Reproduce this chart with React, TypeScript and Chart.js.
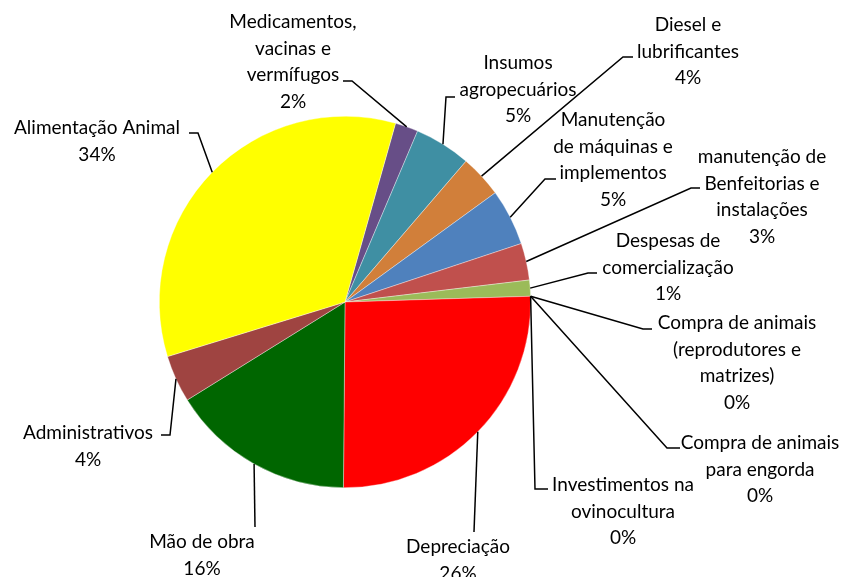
import React, { useEffect, useRef } from 'react';
import { Chart, registerables } from 'chart.js';

Chart.register(...registerables);

const categories = [
  'Medicamentos, vacinas e vermífugos',
  'Insumos agropecuários',
  'Diesel e lubrificantes',
  'Manutenção de máquinas e implementos',
  'manutenção de Benfeitorias e instalações',
  'Despesas de comercialização',
  'Compra de animais (reprodutores e matrizes)',
  'Compra de animais para engorda',
  'Investimentos na ovinocultura',
  'Depreciação',
  'Mão de obra',
  'Administrativos',
  'Alimentação Animal',
];

const values = [2.0, 4.9, 3.7, 4.9, 3.2, 1.4, 0, 0, 0, 25.6, 16.0, 4.1, 34.1];

const colors = [
  '#674E87', '#3F8FA3', '#D17F3A', '#4F81BD', '#C0504D', '#9BBB59',
  '#8064A2', '#4BACC6', '#F79646', '#FF0000', '#006600', '#9F4441', '#FFFF00',
];

const labelLines = [
  ['Medicamentos,', 'vacinas e', 'vermífugos'],
  ['Insumos', 'agropecuários'],
  ['Diesel e', 'lubrificantes'],
  ['Manutenção', 'de máquinas e', 'implementos'],
  ['manutenção de', 'Benfeitorias e', 'instalações'],
  ['Despesas de', 'comercialização'],
  ['Compra de animais', '(reprodutores e', 'matrizes)'],
  ['Compra de animais', 'para engorda'],
  ['Investimentos na', 'ovinocultura'],
  ['Depreciação'],
  ['Mão de obra'],
  ['Administrativos'],
  ['Alimentação Animal'],
];

// label layout: text centre x, first line centre y, leader elbow and leader end
const labelLayout = [
  { cx: 293, y0: 22, elbow: [352, 81], end: [343, 81] },
  { cx: 518, y0: 63, elbow: [446, 97], end: [455, 97] },
  { cx: 688, y0: 25, elbow: [623, 57], end: [633, 57] },
  { cx: 613, y0: 120, elbow: [545, 179], end: [556, 179] },
  { cx: 762, y0: 157, elbow: [691, 188], end: [700, 188] },
  { cx: 668, y0: 241, elbow: [588, 273], end: [597, 273] },
  { cx: 737, y0: 323, elbow: [643, 329], end: [652, 329] },
  { cx: 760, y0: 443, elbow: [667, 448], end: [680, 448] },
  { cx: 623, y0: 485, elbow: [535, 489], end: [548, 489] },
  { cx: 458, y0: 547, elbow: [474, 532], end: [474, 532] },
  { cx: 202, y0: 542, elbow: [255, 527], end: [255, 527] },
  { cx: 88, y0: 433, elbow: [170, 435], end: [161, 435] },
  { cx: 97, y0: 128, elbow: [198, 133], end: [189, 133] },
];

const LINE_H = 26.5;
const FONT = '19px Lato';

const labelPlugin = {
  id: 'excelLabels',
  afterDatasetsDraw(chart: any) {
    const ctx = chart.ctx;
    const meta = chart.getDatasetMeta(0);
    const data = chart.data.datasets[0].data as number[];
    const total = data.reduce((a, b) => a + b, 0);
    ctx.save();
    ctx.strokeStyle = '#000000';
    ctx.lineWidth = 1.5;
    ctx.fillStyle = '#000000';
    ctx.font = FONT;
    ctx.textAlign = 'center';
    ctx.textBaseline = 'middle';
    meta.data.forEach((arc: any, i: number) => {
      const lay = labelLayout[i];
      if (!lay) return;
      const { x, y, startAngle, endAngle, outerRadius } = arc.getProps(
        ['x', 'y', 'startAngle', 'endAngle', 'outerRadius'],
        true
      );
      const mid = (startAngle + endAngle) / 2;
      const px = x + Math.cos(mid) * outerRadius;
      const py = y + Math.sin(mid) * outerRadius;
      ctx.beginPath();
      ctx.moveTo(px, py);
      ctx.lineTo(lay.elbow[0], lay.elbow[1]);
      ctx.lineTo(lay.end[0], lay.end[1]);
      ctx.stroke();
      const lines = [...labelLines[i], Math.round((data[i] / total) * 100) + '%'];
      lines.forEach((t, k) => {
        ctx.fillText(t, lay.cx, lay.y0 + k * LINE_H);
      });
    });
    ctx.restore();
  },
};

export default function App() {
  const ref = useRef<HTMLCanvasElement | null>(null);
  useEffect(() => {
    document.body.style.margin = '0';
    const canvas = ref.current;
    if (!canvas) return;
    const chart = new Chart(canvas, {
      type: 'pie',
      data: {
        labels: categories,
        datasets: [
          {
            data: values,
            backgroundColor: colors,
            borderColor: 'rgba(255,255,255,0.6)',
            borderWidth: 0.6,
            hoverOffset: 0,
          },
        ],
      },
      options: {
        responsive: false,
        animation: false,
        devicePixelRatio: 1,
        rotation: 15.8,
        layout: { padding: { left: 159, right: 314, top: 116, bottom: 89 } },
        plugins: {
          legend: { display: false },
          tooltip: { enabled: false },
          title: { display: false },
        },
        events: [],
      },
      plugins: [labelPlugin],
    });
    return () => chart.destroy();
  }, []);
  return (
    <div style={{ width: 845, height: 577, background: '#ffffff' }}>
      <canvas ref={ref} width={845} height={577} />
    </div>
  );
}
